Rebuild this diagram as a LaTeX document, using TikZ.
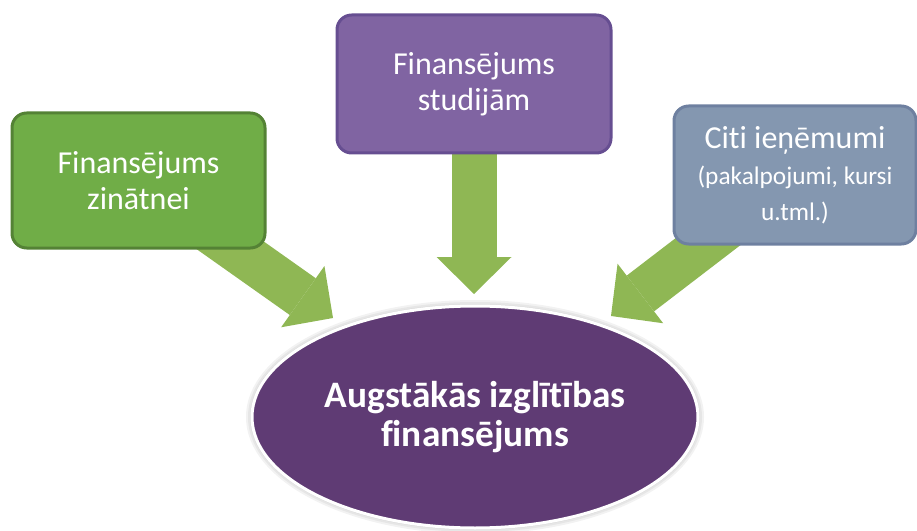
\documentclass[tikz,border=0pt]{standalone}
\usepackage{fontspec}
\setmainfont{Carlito}[Ligatures=NoCommon]
\usetikzlibrary{shapes.geometric,arrows.meta}
\pgfdeclarelayer{fons}
\pgfsetlayers{fons,main}
\definecolor{bultaZ}{RGB}{143,183,84}
\definecolor{zalsK}{RGB}{112,173,71}
\definecolor{zalsM}{RGB}{84,130,53}
\definecolor{violK}{RGB}{128,100,162}
\definecolor{violM}{RGB}{102,78,145}
\definecolor{pelekK}{RGB}{132,151,176}
\definecolor{pelekM}{RGB}{110,128,160}
\definecolor{elipseK}{RGB}{95,59,116}
\newcommand{\mazs}{\fontsize{19}{24}\selectfont}

\begin{document}
\begin{tikzpicture}[x=0.75pt,y=-0.75pt,
    kaste/.style={draw, line width=2.25pt, rounded corners=11pt,
      minimum height=103.5pt, text=white, align=center,
      font=\fontsize{24}{27}\selectfont},
    bulta/.style={draw=bultaZ, line width=33.75pt,
      -{Triangle[width=56.25pt,length=27.75pt,line width=0pt]}}]
    \useasboundingbox (0,0) rectangle (917,531);
    % Lodziņi
    \node[kaste, fill=zalsK, draw=zalsM, minimum width=189.75pt,
      minimum height=101.25pt] (zin) at (138.5,180.5) {Finansējums\\zinātnei};
    \node[kaste, fill=violK, draw=violM, minimum width=205.5pt]
      (stud) at (474,84) {Finansējums\\studijām};
    \node[kaste, fill=pelekK, draw=pelekM, minimum width=181.5pt]
      (citi) at (795,175)
      {Citi ieņēmumi\\\mazs(pakalpojumi, kursi\\\mazs u.tml.)};
    % Elipse
    \node[ellipse, fill=elipseK, draw=white, line width=2.25pt,
      minimum width=334.5pt, minimum height=166.5pt, inner sep=0pt,
      text=white, align=center, font=\bfseries\fontsize{28}{29}\selectfont]
      (fin) at (475,417) {Augstākās izglītības\\finansējums};
    % Bultu gali
    \coordinate (galsZ) at (333,318);
    \coordinate (galsS) at (474,294);
    \coordinate (galsC) at (611,316);
    \begin{pgfonlayer}{fons}
      % ēna ap elipsi
      \foreach \d in {2,4,6}
        \fill[black, opacity=0.05] (fin.center) ellipse ({223+\d} and {111+\d});
      % Bultas
      \draw[bulta] (zin.center) -- (galsZ);
      \draw[bulta] (stud.center) -- (galsS);
      \draw[bulta] (citi.center) -- (galsC);
    \end{pgfonlayer}
\end{tikzpicture}
\end{document}
